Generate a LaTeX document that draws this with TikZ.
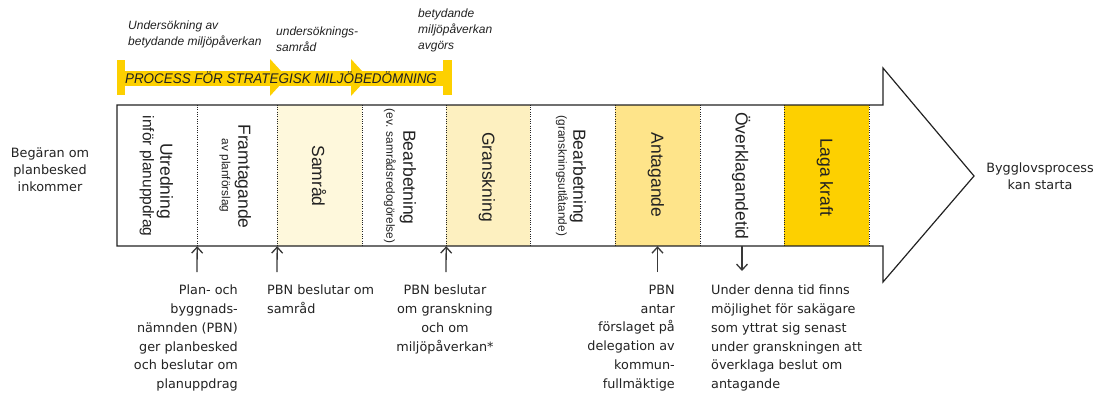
\documentclass[tikz,border=0pt]{standalone}
\usepackage{fontspec}
\setmainfont{Liberation Sans}
\newfontfamily\bodyfont{DejaVu Sans}
\usetikzlibrary{arrows.meta}
\definecolor{gold}{HTML}{FDD000}
\definecolor{paleA}{HTML}{FEF8DC}
\definecolor{paleB}{HTML}{FDF0C0}
\definecolor{paleC}{HTML}{FEE48A}
\definecolor{ink}{HTML}{222222}
\begin{document}
\begin{tikzpicture}[x=1pt,y=-1pt,
  sec/.style={rectangle,draw=none,inner sep=0pt,minimum height=141pt},
  sepline/.style={draw=ink,line width=1pt,dash pattern=on 1pt off 1.3pt},
  mainlab/.style={rotate=-90,inner sep=0pt,text=ink,font=\fontsize{17.5}{18}\selectfont},
  sublab/.style={rotate=-90,inner sep=0pt,text=ink,font=\fontsize{11.8}{12}\selectfont},
  midlab/.style={rotate=-90,inner sep=0pt,text=ink,font=\fontsize{15.5}{16}\selectfont},
  toptxt/.style={inner sep=0pt,anchor=north west,align=left,text=ink,font=\fontsize{12}{16}\selectfont\itshape},
  bottxt/.style={inner sep=0pt,text=ink,font=\bodyfont\fontsize{12.8}{18.7}\selectfont},
  sidetxt/.style={inner sep=0pt,align=center,text=ink,font=\bodyfont\fontsize{12.8}{17}\selectfont},
  marker/.style={draw=ink!90,line width=1.3pt,-{Straight Barb[length=6pt,width=11pt,line width=1.3pt]}}
]
\useasboundingbox (0,0) rectangle (1100,394);

% top annotations
\node[toptxt] (t1) at (128,21) {Undersökning av\\betydande miljöpåverkan};
\node[toptxt] (t2) at (276,26.5) {undersöknings-\\samråd};
\node[toptxt] (t3) at (418,9) {betydande\\miljöpåverkan\\avgörs};

% yellow process bar
\fill[gold] (117,71) rectangle (452,86);
\fill[gold] (117,60) rectangle (125,95);
\fill[gold] (443,60) rectangle (452,95);
\fill[gold] (270,59) -- (287,77.5) -- (270,96) -- cycle;
\fill[gold] (351,59) -- (368,77.5) -- (351,96) -- cycle;
\node[inner sep=0pt,text=ink,font=\fontsize{14}{14}\selectfont\itshape] (bar) at (281,78)
  {\scalebox{0.96}[1]{PROCESS FÖR STRATEGISK MILJÖBEDÖMNING}};

% sections
\node[sec,minimum width=80pt] (s1) at (157,175.5) {};
\node[sec,minimum width=80pt] (s2) at (237,175.5) {};
\node[sec,minimum width=85pt,fill=paleA] (s3) at (319.5,175.5) {};
\node[sec,minimum width=84pt] (s4) at (404,175.5) {};
\node[sec,minimum width=84pt,fill=paleB] (s5) at (488,175.5) {};
\node[sec,minimum width=85pt] (s6) at (572.5,175.5) {};
\node[sec,minimum width=85pt,fill=paleC] (s7) at (657.5,175.5) {};
\node[sec,minimum width=84pt] (s8) at (742,175.5) {};
\node[sec,minimum width=85pt,fill=gold] (s9) at (826.5,175.5) {};

\foreach \s in {s1,s2,s3,s4,s5,s6,s7,s8,s9}
  \draw[sepline] (\s.north east) -- (\s.south east);

% big arrow outline
\draw[ink,line width=1.2pt,line join=miter] (117,105) -- (883,105) -- (883,68) -- (974,176) -- (883,282) -- (883,246) -- (117,246) -- cycle;

% section labels
\node[mainlab] (l1) at (165,181) {Utredning};
\node[midlab] (l1b) at (147,176) {inför planuppdrag};
\node[mainlab] (l2) at (243,176.5) {Framtagande};
\node[sublab] (l2b) at (225,175.5) {av planförslag};
\node[mainlab] (l3) at (319,176) {Samråd};
\node[mainlab] (l4) at (408,177.5) {Bearbetning};
\node[sublab] (l4b) at (390,176) {(ev. samrådsredogörelse)};
\node[mainlab] (l5) at (487,177) {Granskning};
\node[mainlab] (l6) at (578,176.5) {Bearbetning};
\node[sublab] (l6b) at (562,176) {(granskningsutlåtande)};
\node[mainlab] (l7) at (656,175) {Antagande};
\node[mainlab] (l8) at (741,176) {Överklagandetid};
\node[mainlab] (l9) at (825,177) {Laga kraft};

% side texts
\node[sidetxt] (left) at (50,170) {Begäran om\\planbesked\\inkommer};
\node[sidetxt] (right) at (1040,176.5) {Bygglovsprocess\\kan starta};

% bottom texts
\node[bottxt,align=right,anchor=north east] (b1) at (238,285) {Plan- och\\byggnads-\\nämnden (PBN)\\ger planbesked\\och beslutar om\\planuppdrag};
\node[bottxt,align=left,anchor=north west] (b2) at (267,285) {PBN beslutar om\\samråd};
\node[bottxt,align=center,anchor=north] (b3) at (445,285) {PBN beslutar\\om granskning\\och om\\miljöpåverkan*};
\node[bottxt,align=right,anchor=north east] (b4) at (675,285) {PBN\\antar\\förslaget på\\delegation av\\kommun-\\fullmäktige};
\node[bottxt,align=left,anchor=north west] (b5) at (711,285) {Under denna tid finns\\möjlighet för sakägare\\som yttrat sig senast\\under granskningen att\\överklaga beslut om\\antagande};

% markers
\coordinate (a1) at (197,272);
\coordinate (a2) at (277,272);
\coordinate (a3) at (446,272);
\coordinate (a4) at (657.5,272);
\coordinate (a5) at (742,271);
\draw[marker] (a1) -- (s1.south east);
\draw[marker] (a2) -- (s2.south east);
\draw[marker] (a3) -- (s4.south east);
\draw[marker] (a4) -- (s7.south);
\draw[marker] (s8.south) -- (a5);
\end{tikzpicture}
\end{document}
